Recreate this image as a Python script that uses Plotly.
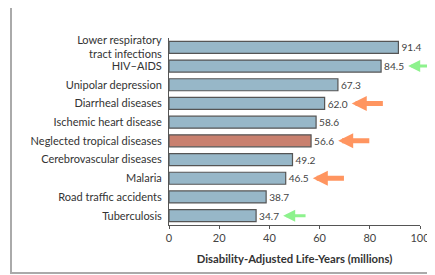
import plotly.graph_objects as go

categories = ["Lower respiratory<br>tract infections", "HIV–AIDS", "Unipolar depression",
              "Diarrheal diseases", "Ischemic heart disease", "Neglected tropical diseases",
              "Cerebrovascular diseases", "Malaria", "Road traffic accidents", "Tuberculosis"]
values = [91.4, 84.5, 67.3, 62.0, 58.6, 56.6, 49.2, 46.5, 38.7, 34.7]
highlight = "Neglected tropical diseases"
value_labels = [f"{v:.1f}" for v in values]
x_ticks = [0, 20, 40, 60, 80, 100]
x_title = "Disability-Adjusted Life-Years (millions)"

# arrow markers: (category index, colour, thickness)
arrow_marks = [(1, "#8DF28D", 3), (3, "#FF9560", 5), (5, "#FF9560", 5), (7, "#FF9560", 5), (9, "#8DF28D", 3)]

BLUE = "#97B7C8"
RED = "#C9806E"
colors = [RED if c == highlight else BLUE for c in categories]

OFF = 8  # page body margin
W, H = 435 - OFF, 275 - OFF
L, R, T, B = 169 - OFF, 15, 38 - OFF, 50
pw, ph = W - L - R, H - T - B

fig = go.Figure()
fig.add_trace(go.Bar(
    x=values, y=categories, orientation="h",
    marker=dict(color=colors, line=dict(color="#555555", width=1.2)),
    text=value_labels, textposition="outside",
    textfont=dict(family="Lato", size=11, color="#444444"),
    cliponaxis=False, width=0.64,
))

for idx, col, thick in arrow_marks:
    v = values[idx]
    fig.add_annotation(
        x=v + 10.8, y=categories[idx], xref="x", yref="y",
        ax=v + 10.8 + (9.5 if thick == 3 else 13), ay=categories[idx], axref="x", ayref="y",
        showarrow=True, arrowhead=2, arrowsize=0.6 if thick == 5 else 0.8, arrowwidth=thick,
        arrowcolor=col, text="", standoff=0,
    )

def px2paper(px, py):
    return (px - OFF - L) / pw, (H - B - (py - OFF)) / ph

x0, y0 = px2paper(11, 7)
x1, y1 = px2paper(445, 273)
fig.add_shape(type="rect", xref="paper", yref="paper", x0=x0, y0=y1, x1=x1, y1=y0,
              line=dict(color="#AAAAAA", width=2), layer="below")

fig.update_layout(
    template="none",
    width=W, height=H, margin=dict(l=L, r=R, t=T, b=B, autoexpand=False),
    paper_bgcolor="white", plot_bgcolor="white", showlegend=False,
    font=dict(family="Lato", size=11, color="#333333"),
    xaxis=dict(range=[0, 100], tickvals=x_ticks, showline=True, linecolor="#555555", linewidth=1,
               ticks="outside", ticklen=3, tickcolor="#555555", showgrid=False, zeroline=False,
               automargin=False, tickfont=dict(size=11, color="#444444"),
               title=dict(text="<b>" + x_title + "</b>", font=dict(size=11.3, color="#333333"), standoff=11)),
    yaxis=dict(autorange="reversed", showline=True, linecolor="#555555", linewidth=1,
               ticks="", showgrid=False, zeroline=False, ticklabelstandoff=4, automargin=False,
               tickfont=dict(size=11, color="#333333")),
)

fig.write_html("out.html")
